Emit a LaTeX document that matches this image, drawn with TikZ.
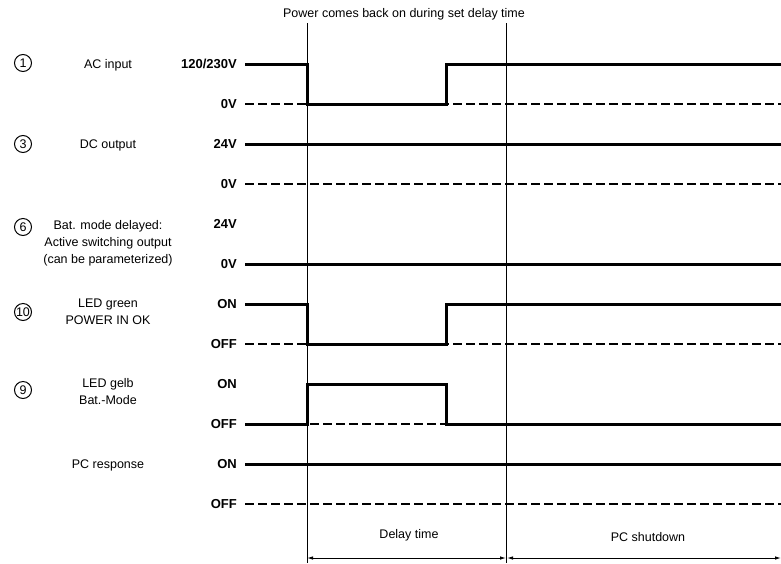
\documentclass[tikz,border=0pt]{standalone}
\usepackage{fontspec}
\setmainfont{Liberation Sans}
\usetikzlibrary{arrows.meta}

\begin{document}
\begin{tikzpicture}[x=1pt,y=-1pt,
  sig/.style={line width=3pt},
  zero/.style={line width=1.8pt,dash pattern=on 9pt off 4pt},
  thin/.style={line width=0.9pt},
  lvl/.style={anchor=east,text height=9.5pt,text depth=0pt,inner sep=1pt,font=\fontsize{13}{15}\selectfont\bfseries},
  desc/.style={anchor=base,align=center,inner sep=0pt,font=\fontsize{12.5}{17}\selectfont},
  num/.style={circle,draw,line width=1pt,minimum size=17pt,inner sep=0pt,font=\fontsize{12.5}{13}\selectfont},
  >={Latex[length=6pt,width=3.5pt]}]
\useasboundingbox (0,0) rectangle (781,563);

\node[desc] (title) at (404,17) {Power comes back on during set delay time};

% row labels (multi-line text sits on its last line)
\node[num] (n1) at (23,63) {1};
\node[desc] (ac) at (108,68) {AC input};
\node[lvl] (ac hi) at (238,64) {120/230V};
\node[lvl] (ac lo) at (238,104) {0V};

\node[num] (n3) at (23,144) {3};
\node[desc] (dc) at (108,148) {DC output};
\node[lvl] (dc hi) at (238,144) {24V};
\node[lvl] (dc lo) at (238,184) {0V};

\node[num] (n6) at (23,227) {6};
\node[desc] (bat) at (108,263) {Bat. mode delayed:\\Active switching output\\(can be parameterized)};
\node[lvl] (bat hi) at (238,224) {24V};
\node[lvl] (bat lo) at (238,264) {0V};

\node[num] (n10) at (23,312) {10};
\node[desc] (green) at (108,324) {LED green\\POWER IN OK};
\node[lvl] (green hi) at (238,304) {ON};
\node[lvl] (green lo) at (238,344) {OFF};

\node[num] (n9) at (23,390) {9};
\node[desc] (gelb) at (108,404) {LED gelb\\Bat.-Mode};
\node[lvl] (gelb hi) at (238,384) {ON};
\node[lvl] (gelb lo) at (238,424) {OFF};

\node[desc] (pc) at (108,468) {PC response};
\node[lvl] (pc hi) at (238,464) {ON};
\node[lvl] (pc lo) at (238,504) {OFF};

% time marks
\coordinate (fail top) at (307,23);
\coordinate (fail bot) at (307,563);
\coordinate (end top) at (506,23);
\coordinate (end bot) at (506,563);
\draw[thin] (fail top) -- (fail bot);
\draw[thin] (end top) -- (end bot);

% signals
\draw[zero] (245,104) -- (781,104);
\draw[sig] (245,64) -- (307,64) -- (307,104) -- (446,104) -- (446,64) -- (781,64);

\draw[sig] (245,144) -- (781,144);
\draw[zero] (245,184) -- (781,184);

\draw[sig] (245,264) -- (781,264);

\draw[zero] (245,344) -- (781,344);
\draw[sig] (245,304) -- (307,304) -- (307,344) -- (446,344) -- (446,304) -- (781,304);

\draw[zero] (245,424) -- (781,424);
\draw[sig] (245,424) -- (307,424) -- (307,384) -- (446,384) -- (446,424) -- (781,424);

\draw[sig] (245,464) -- (781,464);
\draw[zero] (245,504) -- (781,504);

% durations
\coordinate (d0) at (307,558);
\coordinate (d1) at (506,558);
\coordinate (d2) at (781,558);
\draw[thin,<->] (d0) -- (d1);
\draw[thin,<->] ([xshift=1pt]d1) -- (d2);
\node[desc] (delay) at (409,538) {Delay time};
\node[desc] (shut) at (648,541) {PC shutdown};
\end{tikzpicture}
\end{document}
